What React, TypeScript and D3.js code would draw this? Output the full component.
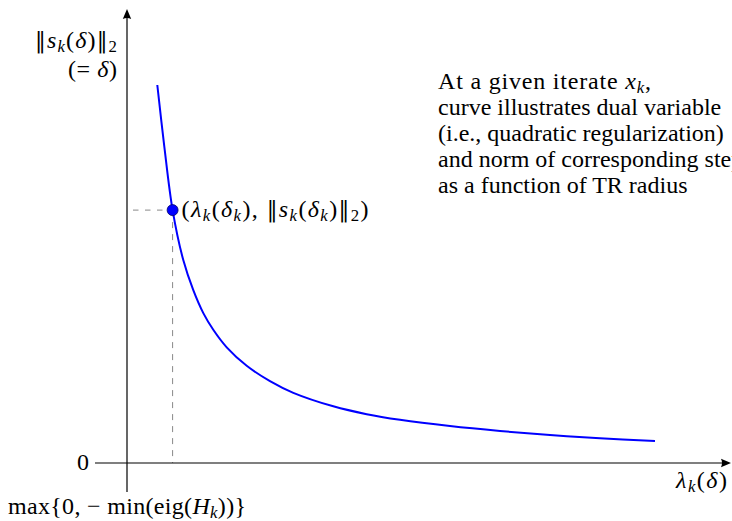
import React from "react";
import * as d3 from "d3";

// Dual variable λ_k(δ) against step norm ‖s_k(δ)‖₂, sampled along the curve
const lambdaVals = [0.505, 0.622, 0.76, 0.938, 1.105, 1.272, 1.438, 1.662, 1.995, 2.383, 2.772, 3.438, 3.995, 4.55, 5.383, 6.217, 7.05, 7.883, 8.8];
const normVals = [8.4, 7.03, 5.62, 4.51, 3.84, 3.33, 2.96, 2.57, 2.16, 1.82, 1.56, 1.26, 1.085, 0.96, 0.82, 0.71, 0.62, 0.55, 0.49];

// Highlighted point (λ_k(δ_k), ‖s_k(δ_k)‖₂)
const markLambda = 0.76;
const markNorm = 5.62;

type Seg = [string, string];

const noteLines: Seg[][] = [
  [["At a given iterate ", "r"], ["x", "i"], ["k", "sub"], [",", "r"]],
  [["curve illustrates dual variable", "r"]],
  [["(i.e., quadratic regularization)", "r"]],
  [["and norm of corresponding step", "r"]],
  [["as a function of TR radius", "r"]],
];

const pointLabel: Seg[] = [
  ["(", "r"], ["λ", "i"], ["k", "sub"], ["(", "r"], ["δ", "i"], ["k", "sub"], ["), ", "r"],
  ["‖", "bar"], ["s", "i"], ["k", "sub"], ["(", "r"], ["δ", "i"], ["k", "sub"], [")", "r"],
  ["‖", "bar"], ["2", "subr"], [")", "r"],
];
const yLabel: Seg[] = [["‖", "bar"], ["s", "i"], ["k", "sub"], ["(", "r"], ["δ", "i"], [")", "r"], ["‖", "bar"], ["2", "subr"]];
const yLabel2: Seg[] = [["(= ", "r"], ["δ", "i"], [")", "r"]];
const zeroLabel: Seg[] = [["0", "r"]];
const xLabel: Seg[] = [["λ", "i"], ["k", "sub"], ["(", "r"], ["δ", "i"], [")", "r"]];
const xMinLabel: Seg[] = [["max{0, − min(eig(", "r"], ["H", "i"], ["k", "sub"], ["))}", "r"]];

const W = 732;
const H = 521;
const FONT = "Liberation Serif";
const BAR_FONT = "DejaVu Serif";
const FS = 24;

function MathText({
  x,
  y,
  segs,
  anchor = "start",
  size = FS,
  width,
}: {
  x: number;
  y: number;
  segs: Seg[];
  anchor?: string;
  size?: number;
  width?: number;
}) {
  const out: React.ReactNode[] = [];
  let shifted = false;
  const subShift = size * 0.18;
  segs.forEach(([t, kind], i) => {
    const isSub = kind === "sub" || kind === "subr";
    let dy = 0;
    if (isSub && !shifted) {
      dy = subShift;
      shifted = true;
    } else if (!isSub && shifted) {
      dy = -subShift;
      shifted = false;
    }
    out.push(
      <tspan
        key={i}
        dy={dy || undefined}
        fontFamily={kind === "bar" ? BAR_FONT : FONT}
        fontStyle={kind === "i" || kind === "sub" ? "italic" : "normal"}
        fontSize={isSub ? size * 0.7 : kind === "bar" ? size * 0.9 : size}
      >
        {t}
      </tspan>
    );
  });
  return (
    <text
      x={x}
      y={y}
      textAnchor={anchor}
      fill="#000"
      fontFamily={FONT}
      fontSize={size}
      xmlSpace="preserve"
      textLength={width}
      lengthAdjust={width ? "spacing" : undefined}
    >
      {out}
    </text>
  );
}

export default function App() {
  const x = d3.scaleLinear().domain([0, 10]).range([127, 727]);
  const y = d3.scaleLinear().domain([0, 10]).range([463, 13]);

  const pts: [number, number][] = lambdaVals.map((l, i) => [l, normVals[i]]);
  const line = d3
    .line<[number, number]>()
    .x((d) => x(d[0]))
    .y((d) => y(d[1]))
    .curve(d3.curveCatmullRom.alpha(0.5));

  const ox = x(0);
  const oy = y(0);
  const mx = x(markLambda);
  const my = y(markNorm);

  // axis extents
  const xStart = 95;
  const xTip = 731;
  const yBottom = 492;
  const yTip = 9;
  const ah = 10;
  const aw = 4.2;

  return (
    <svg width={W} height={H} style={{ position: "absolute", left: 0, top: 0, background: "#fff" }}>
      <rect width={W} height={H} fill="#fff" />
      {/* guide lines to the highlighted point */}
      <line x1={ox + 6} y1={my} x2={mx} y2={my} stroke="#888" strokeWidth={1} strokeDasharray="5.5 6.5" />
      <line x1={mx} y1={my} x2={mx} y2={oy} stroke="#888" strokeWidth={1} strokeDasharray="6 6" />

      {/* axes */}
      <line x1={xStart} y1={oy} x2={xTip - ah + 1} y2={oy} stroke="#000" strokeWidth={1.2} />
      <path
        d={`M${xTip},${oy} L${xTip - ah},${oy - aw} Q${xTip - ah + 2},${oy} ${xTip - ah},${oy + aw} Z`}
        fill="#000"
      />
      <line x1={ox} y1={yBottom} x2={ox} y2={yTip + ah - 1} stroke="#000" strokeWidth={1.2} />
      <path
        d={`M${ox},${yTip} L${ox - aw},${yTip + ah} Q${ox},${yTip + ah - 2} ${ox + aw},${yTip + ah} Z`}
        fill="#000"
      />

      {/* curve */}
      <path d={line(pts) || ""} fill="none" stroke="#0000ff" strokeWidth={2} />

      {/* highlighted point */}
      <circle cx={mx} cy={my} r={5.5} fill="#0000ff" stroke="#00006a" strokeWidth={0.8} />

      {/* labels */}
      <MathText x={mx + 9} y={my + 7} segs={pointLabel} width={187} />
      <MathText x={35} y={48} segs={yLabel} width={82} />
      <MathText x={68} y={77} segs={yLabel2} width={49} />
      <MathText x={89} y={470} anchor="end" segs={zeroLabel} />
      <MathText x={676} y={488} segs={xLabel} width={51} />
      <MathText x={8} y={514} segs={xMinLabel} width={238} />

      {noteLines.map((segs, i) => (
        <MathText key={i} x={438} y={89 + i * 26} segs={segs} width={i === 0 ? 213 : undefined} />
      ))}
    </svg>
  );
}
